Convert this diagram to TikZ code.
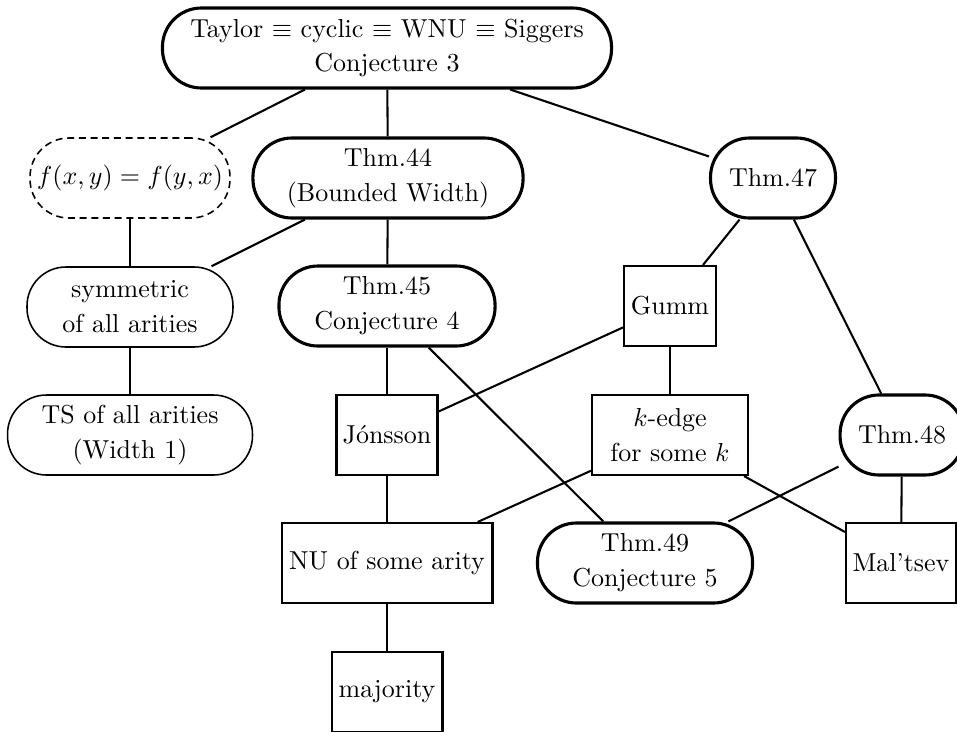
\documentclass[tikz,border=0pt]{standalone}
\tikzset{
  thm/.style={draw, very thick, rounded corners=15pt, align=center, minimum height=30.8pt, inner sep=2pt, font=\linespread{1.12}\selectfont},
  weak/.style={draw, semithick, rounded corners=15pt, align=center, minimum height=30.8pt, inner sep=2pt, font=\linespread{1.12}\selectfont},
  guess/.style={draw, semithick, dash pattern=on 2.7pt off 1.8pt, rounded corners=15pt, align=center, minimum height=30.8pt, inner sep=1pt},
  cond/.style={draw, thick, align=center, minimum height=30.8pt, inner sep=2pt, font=\linespread{1.12}\selectfont},
}
\begin{document}
\begin{tikzpicture}[x=0.385pt, y=-0.385pt]
    \useasboundingbox (0, 0) rectangle (957, 731);
    % top level
    \node[thm, minimum width=172.9pt] (taylor) at (387, 48) {Taylor \(\equiv\) cyclic \(\equiv\) WNU \(\equiv\) Siggers\\Conjecture 3};
    % second row
    \node[guess, minimum width=77pt] (comm) at (130, 178) {\(f(x,y)=f(y,x)\)};
    \node[thm, minimum width=104pt] (bw) at (388, 178) {Thm.44\\(Bounded Width)};
    \node[thm, minimum width=48.1pt] (t47) at (773, 178) {Thm.47};
    % third row
    \node[weak, minimum width=79.3pt] (sym) at (130, 307) {symmetric\\of all arities};
    \node[thm, minimum width=83.2pt] (t45) at (387, 306) {Thm.45\\Conjecture 4};
    \node[cond, minimum width=35.4pt] (gumm) at (670, 306) {Gumm};
    % fourth row
    \node[weak, minimum width=94.3pt] (ts) at (130, 435) {TS of all arities\\(Width 1)};
    \node[cond, minimum width=38.9pt] (jonsson) at (387, 435) {J\'onsson};
    \node[cond, minimum width=60.1pt] (kedge) at (670, 435) {\(k\)-edge\\for some \(k\)};
    \node[thm, minimum width=47.7pt] (t48) at (902, 435) {Thm.48};
    % fifth row
    \node[cond, minimum width=81.2pt] (nu) at (387, 563) {NU of some arity};
    \node[thm, minimum width=82.8pt] (t49) at (645, 563) {Thm.49\\Conjecture 5};
    \node[cond, minimum width=42.4pt] (maltsev) at (901, 563) {Mal\textquoteright tsev};
    % bottom
    \node[cond, minimum width=42.7pt] (maj) at (387, 692) {majority};

    \draw[thick] (taylor) -- (comm);
    \draw[thick] (taylor) -- (bw);
    \draw[thick] (taylor) -- (t47);
    \draw[thick] (comm) -- (sym);
    \draw[thick] (bw) -- (sym);
    \draw[thick] (bw) -- (t45);
    \draw[thick] (sym) -- (ts);
    \draw[thick] (t45) -- (jonsson);
    \draw[thick] (t45) -- (t49);
    \draw[thick] (t47) -- (gumm);
    \draw[thick] (t47) -- (t48);
    \draw[thick] (gumm) -- (jonsson);
    \draw[thick] (gumm) -- (kedge);
    \draw[thick] (jonsson) -- (nu);
    \draw[thick] (kedge) -- (nu);
    \draw[thick] (kedge) -- (maltsev);
    \draw[thick] (t48) -- (t49);
    \draw[thick] (t48) -- (maltsev);
    \draw[thick] (nu) -- (maj);
  \end{tikzpicture}
\end{document}
